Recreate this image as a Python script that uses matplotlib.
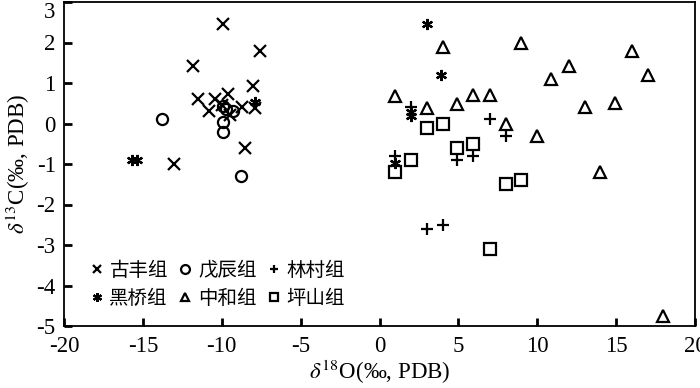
import numpy as np
import matplotlib
matplotlib.use("Agg")
import matplotlib.pyplot as plt
from matplotlib.font_manager import FontProperties

plt.rcParams['font.family'] = ['Liberation Serif', 'DejaVu Sans']
plt.rcParams['mathtext.fontset'] = 'stix'
plt.rcParams['axes.unicode_minus'] = False

# data: (d18O, d13C)
gufeng_x = [-9.9, -7.6, -11.8, -8.0, -11.5, -10.4, -9.6, -10.8, -8.7, -7.9, -9.5, -8.5, -13.0, -10.0]
gufeng_y = [2.45, 1.8, 1.43, 0.92, 0.61, 0.61, 0.73, 0.32, 0.40, 0.38, 0.2, -0.6, -1.0, 0.45]

wuchen_x = [-13.8, -9.9, -9.7, -9.3, -9.9, -9.9, -8.8]
wuchen_y = [0.1, 0.42, 0.37, 0.32, 0.03, -0.2, -1.3]

lincun_x = [7.0, 8.0, 4.9, 5.9, 3.0, 4.0, 1.0, 2.0]
lincun_y = [0.12, -0.32, -0.9, -0.8, -2.6, -2.5, -0.8, 0.4]

heiqiao_x = [-15.7, -15.4, -7.9, 3.0, 3.9, 2.0, 2.0, 1.0]
heiqiao_y = [-0.9, -0.9, 0.52, 2.45, 1.2, 0.28, 0.18, -0.98]

zhonghe_x = [4.0, 9.0, 1.0, 3.0, 4.9, 5.9, 7.0, 8.0, 10.0, 16.0, 12.0, 10.9, 17.0, 13.0, 14.9, 14.0, 18.0]
zhonghe_y = [1.9, 2.0, 0.69, 0.39, 0.49, 0.71, 0.71, 0.0, -0.32, 1.8, 1.41, 1.1, 1.2, 0.4, 0.5, -1.2, -4.75]

pingshan_x = [3.0, 4.0, 4.9, 5.9, 2.0, 1.0, 8.0, 9.0, 7.0]
pingshan_y = [-0.1, 0.0, -0.6, -0.5, -0.9, -1.2, -1.5, -1.4, -3.1]

fig = plt.figure(figsize=(7, 3.88), dpi=100)
ax = fig.add_axes([64 / 700, 62 / 388, 631 / 700, 324 / 388])

kw = dict(linestyle='none', color='black', markerfacecolor='none', markersize=8,
          markeredgewidth=1.6)
ax.plot(gufeng_x, gufeng_y, marker='x', label='古丰组', **kw)
ax.plot(wuchen_x, wuchen_y, marker='o', label='戊辰组', **kw)
ax.plot(lincun_x, lincun_y, marker='+', label='林村组', **kw)
ax.plot(heiqiao_x, heiqiao_y, marker=(6, 2, 0), label='黑桥组', **kw)
ax.plot(zhonghe_x, zhonghe_y, marker='^', label='中和组', **kw)
ax.plot(pingshan_x, pingshan_y, marker='s', label='坪山组', **kw)

ax.set_xlim(-20, 20)
ax.set_ylim(-5, 3)
ax.set_xticks(np.arange(-20, 21, 5))
ax.set_yticks(np.arange(-5, 4, 1))
ax.tick_params(direction='in', length=6, width=2, labelsize=16.5, top=False, right=False)
ax.tick_params(axis='x', pad=7)
ax.tick_params(axis='y', pad=6)
ax.get_yticklabels()[-1].set_va('top')
for s in ax.spines.values():
    s.set_linewidth(1.3)

ax.set_xlabel(r'$\delta^{18}$O(‰, PDB)', fontsize=16.5, labelpad=1)
ax.set_ylabel(r'$\delta^{13}$C(‰, PDB)', fontsize=16.5, labelpad=3)

cjk = FontProperties(family=['Noto Sans CJK SC', 'DejaVu Sans'], size=14)
handles, labels = ax.get_legend_handles_labels()
order = [0, 3, 1, 4, 2, 5]
ax.legend([handles[i] for i in order], [labels[i] for i in order], ncol=3, prop=cjk,
          frameon=False, loc='lower left', bbox_to_anchor=(0.015, 0.0),
          handlelength=0.6, handletextpad=0.35, columnspacing=0.6, labelspacing=0.35,
          markerscale=0.8)

fig.savefig('out.png', dpi=100)
